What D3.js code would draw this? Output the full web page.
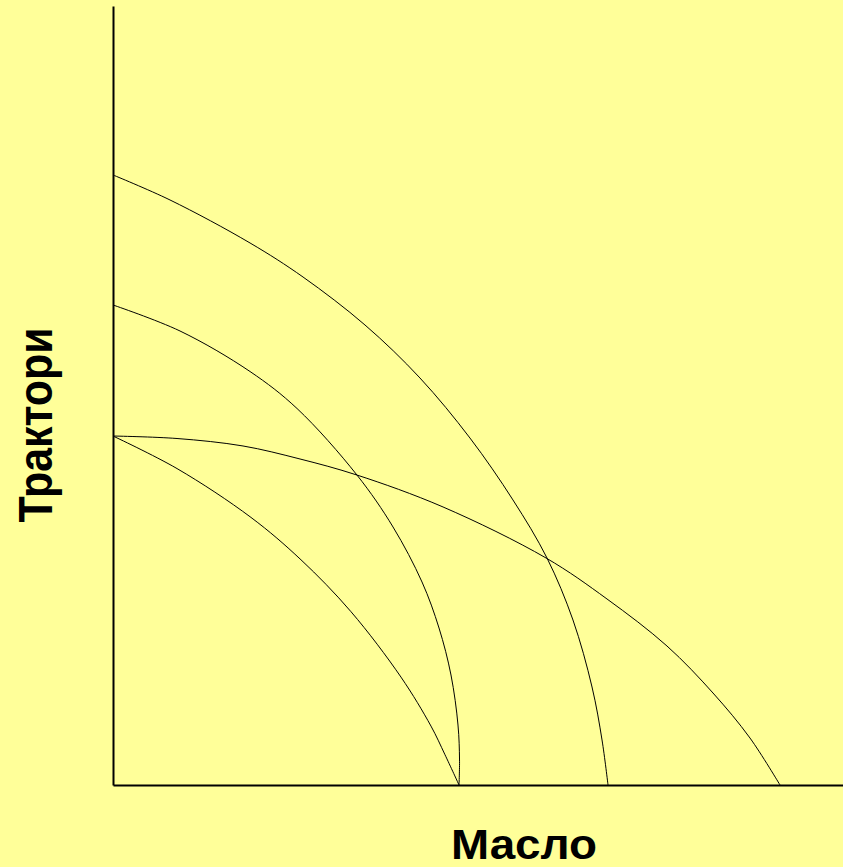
<!DOCTYPE html>
<html>
<head>
<meta charset="utf-8">
<script src="https://cdn.jsdelivr.net/npm/d3@7"></script>
<style>
  html, body { margin: 0; padding: 0; background: #ffff99; }
  svg { display: block; }
</style>
</head>
<body>
<div id="chart-area"></div>
<script>
// axis titles
const xTitle = "Масло";
const yTitle = "Трактори";

// production possibility curves (butter, tractors)
const butterA = [0, 8.77, 18.90, 25.75, 32.60, 39.45, 43.56, 45.48, 47.40];
const tractorsA = [44.80, 40.62, 34.35, 28.91, 22.25, 13.85, 7.56, 3.88, 0];

const butterB = [0, 9.18, 18.77, 25.21, 33.42, 38.36, 42.33, 44.66, 46.30, 47.26, 47.47, 47.40];
const tractorsB = [61.62, 58.28, 53.08, 48.33, 39.79, 33.12, 26.06, 20.15, 14.12, 7.70, 3.21, 0];

const butterC = [0, 7.81, 18.77, 26.03, 34.52, 42.05, 48.90, 54.79, 59.45, 63.01, 65.62, 66.99, 67.81];
const tractorsC = [78.31, 75.10, 69.58, 65.21, 59.05, 52.25, 44.54, 36.59, 29.14, 21.18, 12.58, 5.78, 0];

const butterD = [0, 8.77, 17.81, 25.62, 33.42, 45.21, 59.32, 67.67, 75.89, 82.19, 87.26, 91.37];
const tractorsD = [44.80, 44.48, 43.52, 41.85, 39.79, 35.69, 29.14, 23.88, 17.84, 11.81, 6.03, 0];

const curves = [
    [butterA, tractorsA],
    [butterB, tractorsB],
    [butterC, tractorsC],
    [butterD, tractorsD]
];

const width = 843;
const height = 867;
const margin = {top: 6, right: 0, bottom: 82, left: 113};

const svg = d3.select("#chart-area")
    .append("svg")
    .attr("width", width)
    .attr("height", height);

svg.append("rect")
    .attr("width", width)
    .attr("height", height)
    .attr("fill", "#ffff99");

const x = d3.scaleLinear()
    .domain([0, 100])
    .range([margin.left, width - margin.right]);

const y = d3.scaleLinear()
    .domain([0, 100])
    .range([height - margin.bottom, margin.top]);

// axes: plain lines, no ticks
const xAxis = svg.append("g")
    .attr("transform", `translate(0, ${y(0)})`)
    .call(d3.axisBottom(x).tickValues([]).tickSizeOuter(0));
xAxis.select(".domain").attr("stroke", "#000").attr("stroke-width", 2);

const yAxis = svg.append("g")
    .attr("transform", `translate(${x(0)}, 0)`)
    .call(d3.axisLeft(y).tickValues([]).tickSizeOuter(0));
yAxis.select(".domain").attr("stroke", "#000").attr("stroke-width", 2);

const line = d3.line()
    .x(d => x(d[0]))
    .y(d => y(d[1]))
    .curve(d3.curveCatmullRom.alpha(0.5));

svg.selectAll(".ppf")
    .data(curves)
    .enter()
    .append("path")
    .attr("class", "ppf")
    .attr("d", c => line(c[0].map((b, i) => [b, c[1][i]])))
    .attr("fill", "none")
    .attr("stroke", "#000")
    .attr("stroke-width", 1);

// axis titles
svg.append("text")
    .attr("x", 524)
    .attr("y", 859)
    .attr("text-anchor", "middle")
    .attr("textLength", 146)
    .attr("lengthAdjust", "spacingAndGlyphs")
    .style("font-family", "'Liberation Sans', Arial, sans-serif")
    .style("font-weight", "bold")
    .style("font-size", "43px")
    .text(xTitle);

svg.append("text")
    .attr("transform", "translate(52, 425) rotate(-90)")
    .attr("text-anchor", "middle")
    .attr("textLength", 195)
    .attr("lengthAdjust", "spacingAndGlyphs")
    .style("font-family", "'Liberation Sans', Arial, sans-serif")
    .style("font-weight", "bold")
    .style("font-size", "48px")
    .text(yTitle);
</script>
</body>
</html>
